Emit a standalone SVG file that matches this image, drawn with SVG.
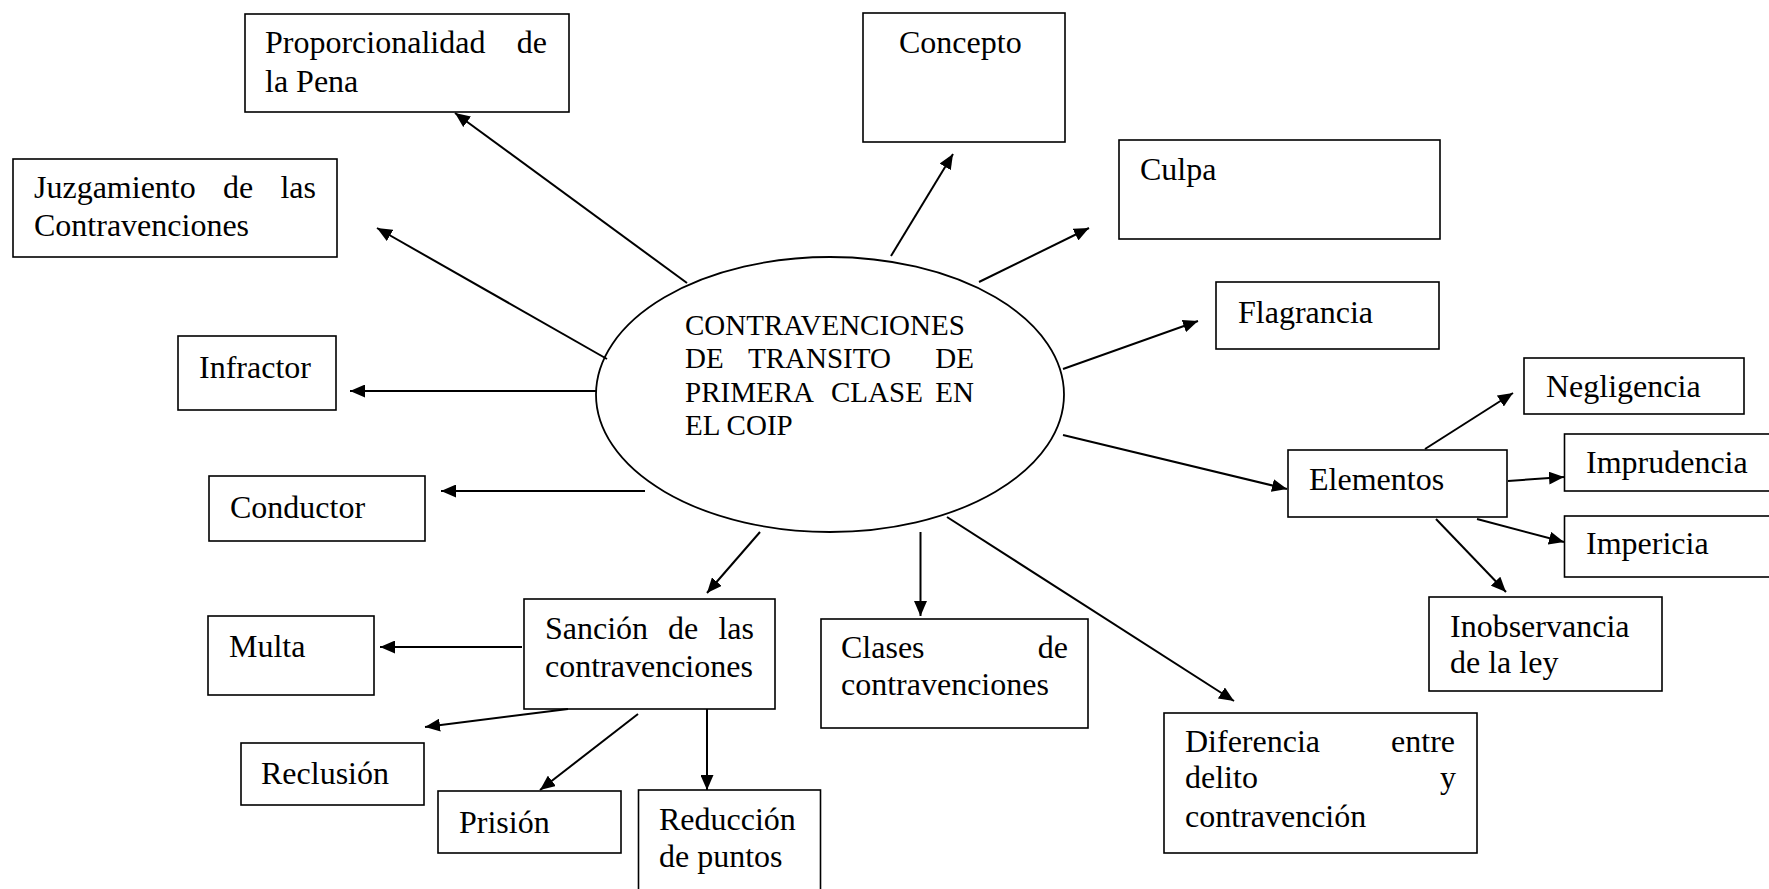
<svg xmlns="http://www.w3.org/2000/svg" width="1769" height="889" viewBox="0 0 1769 889">
<style>
.box{fill:#fff;stroke:#000;stroke-width:1.6}
.t{font-family:"Liberation Serif","Times New Roman",serif;font-size:32px;fill:#000}
.c{font-family:"Liberation Serif","Times New Roman",serif;font-size:29px;fill:#000}
.e{text-anchor:end}
.con line{stroke:#000;stroke-width:2;marker-end:url(#ah)}
</style>
<defs>
<marker id="ah" viewBox="0 0 15 13" refX="15" refY="6.5" markerWidth="15" markerHeight="13" markerUnits="userSpaceOnUse" orient="auto">
<path d="M0,0 L15,6.5 L0,13 z" fill="#000"/>
</marker>
</defs>
<rect width="1769" height="889" fill="#fff"/>
<g id="center">
<ellipse cx="830" cy="394.5" rx="234" ry="137.5" fill="#fff" stroke="#000" stroke-width="1.8"/>
<text class="c" x="685" y="335">CONTRAVENCIONES</text>
<text class="c" x="685" y="368">DE</text><text class="c" x="748" y="368">TRANSITO</text><text class="c e" x="974" y="368">DE</text>
<text class="c" x="685" y="402">PRIMERA</text><text class="c" x="831" y="402">CLASE</text><text class="c e" x="974" y="402">EN</text>
<text class="c" x="685" y="435">EL COIP</text>
</g>
<g id="proporcionalidad"><rect class="box" x="245" y="14" width="324" height="98"/>
<text class="t" x="265" y="53">Proporcionalidad</text><text class="t e" x="547" y="53">de</text>
<text class="t" x="265" y="92">la Pena</text></g>
<g id="concepto"><rect class="box" x="863" y="13" width="202" height="129"/>
<text class="t" x="899" y="53">Concepto</text></g>
<g id="culpa"><rect class="box" x="1119" y="140" width="321" height="99"/>
<text class="t" x="1140" y="180">Culpa</text></g>
<g id="juzgamiento"><rect class="box" x="13" y="159" width="324" height="98"/>
<text class="t" x="34" y="198">Juzgamiento</text><text class="t" x="223" y="198">de</text><text class="t e" x="316" y="198">las</text>
<text class="t" x="34" y="236">Contravenciones</text></g>
<g id="flagrancia"><rect class="box" x="1216" y="282" width="223" height="67"/>
<text class="t" x="1238" y="323">Flagrancia</text></g>
<g id="infractor"><rect class="box" x="178" y="336" width="158" height="74"/>
<text class="t" x="199" y="378">Infractor</text></g>
<g id="negligencia"><rect class="box" x="1524" y="358" width="220" height="56"/>
<text class="t" x="1546" y="397">Negligencia</text></g>
<g id="elementos"><rect class="box" x="1288" y="450" width="219" height="67"/>
<text class="t" x="1309" y="490">Elementos</text></g>
<g id="imprudencia"><rect class="box" x="1564.5" y="434" width="215" height="57"/>
<text class="t" x="1586" y="473">Imprudencia</text></g>
<g id="impericia"><rect class="box" x="1564.5" y="516" width="215" height="61"/>
<text class="t" x="1586" y="554">Impericia</text></g>
<g id="conductor"><rect class="box" x="209" y="476" width="216" height="65"/>
<text class="t" x="230" y="518">Conductor</text></g>
<g id="inobservancia"><rect class="box" x="1429" y="597" width="233" height="94"/>
<text class="t" x="1450" y="637">Inobservancia</text>
<text class="t" x="1450" y="673">de la ley</text></g>
<g id="sancion"><rect class="box" x="524" y="599" width="251" height="110"/>
<text class="t" x="545" y="639">Sanción</text><text class="t" x="668" y="639">de</text><text class="t e" x="754" y="639">las</text>
<text class="t" x="545" y="677">contravenciones</text></g>
<g id="multa"><rect class="box" x="208" y="616" width="166" height="79"/>
<text class="t" x="229" y="657">Multa</text></g>
<g id="clases"><rect class="box" x="821" y="619" width="267" height="109"/>
<text class="t" x="841" y="658">Clases</text><text class="t e" x="1068" y="658">de</text>
<text class="t" x="841" y="695">contravenciones</text></g>
<g id="reclusion"><rect class="box" x="241" y="743" width="183" height="62"/>
<text class="t" x="261" y="784">Reclusión</text></g>
<g id="prision"><rect class="box" x="438" y="791" width="183" height="62"/>
<text class="t" x="459" y="833">Prisión</text></g>
<g id="reduccion"><rect class="box" x="638.5" y="790" width="182" height="110"/>
<text class="t" x="659" y="830">Reducción</text>
<text class="t" x="659" y="867">de puntos</text></g>
<g id="diferencia"><rect class="box" x="1164" y="713" width="313" height="140"/>
<text class="t" x="1185" y="752">Diferencia</text><text class="t e" x="1455" y="752">entre</text>
<text class="t" x="1185" y="788">delito</text><text class="t e" x="1456" y="788">y</text>
<text class="t" x="1185" y="827">contravención</text></g>
<g id="connectors" class="con">
<line x1="687" y1="283" x2="455" y2="113"/>
<line x1="607" y1="359" x2="377" y2="228"/>
<line x1="891" y1="256" x2="953" y2="154"/>
<line x1="979" y1="282" x2="1089" y2="228"/>
<line x1="1063" y1="369" x2="1198" y2="321"/>
<line x1="596" y1="391" x2="350" y2="391"/>
<line x1="645" y1="491" x2="441" y2="491"/>
<line x1="1063" y1="435" x2="1287" y2="489"/>
<line x1="760" y1="532" x2="707" y2="593"/>
<line x1="920.5" y1="532" x2="920.5" y2="616"/>
<line x1="947" y1="517" x2="1234" y2="701"/>
<line x1="1425" y1="449" x2="1513" y2="393"/>
<line x1="1508" y1="481" x2="1564" y2="477"/>
<line x1="1477" y1="519" x2="1564" y2="542"/>
<line x1="1436" y1="519" x2="1506" y2="592"/>
<line x1="522" y1="647" x2="380" y2="647"/>
<line x1="568" y1="709" x2="425" y2="727"/>
<line x1="638" y1="714" x2="540" y2="790"/>
<line x1="707" y1="709" x2="707" y2="790"/>
</g>
</svg>
